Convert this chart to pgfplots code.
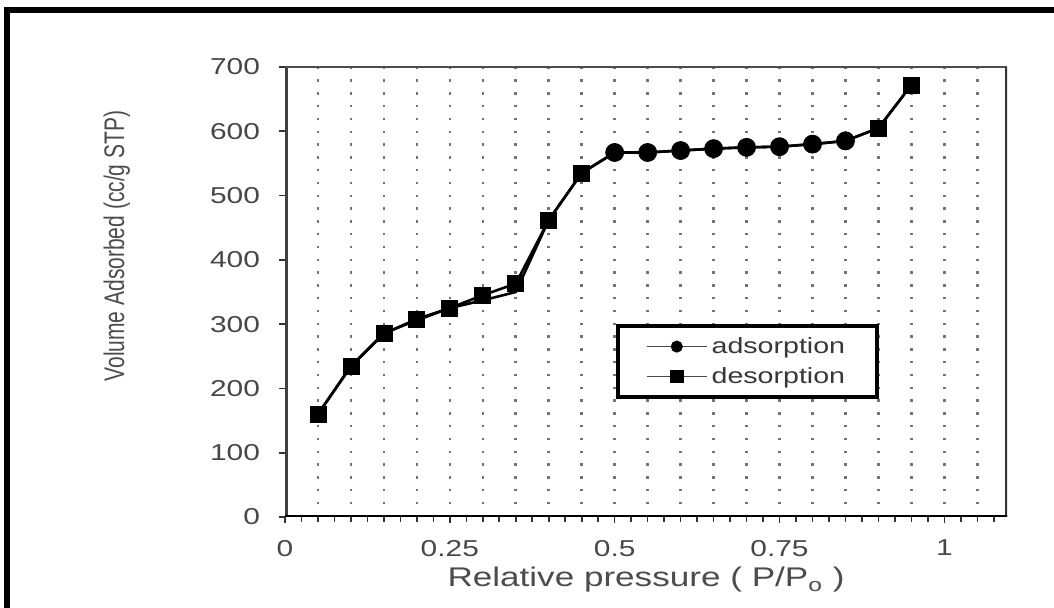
\documentclass[border=0pt]{standalone}
\usepackage{pgfplots}
\pgfplotsset{compat=1.18}
\usepackage{pgfplotstable}
\usepackage{graphicx}
\usepackage{fontspec}
\setmainfont{Liberation Sans}[FakeStretch=1.3]
\newfontfamily\plainfont{Liberation Sans}

% relative pressure, adsorption and desorption branches
\pgfplotstableread{
x    ads  des
0.05 160  160
0.10 235  234
0.15 286  285
0.20 306  308
0.25 325  325
0.30 337  345
0.35 350  363
0.40 462  462
0.45 535  535
0.50 567  567
0.55 567  567
0.60 570  570
0.65 573  573
0.70 575  575
0.75 576  576
0.80 580  580
0.85 585  585
0.90 605  605
0.95 672  672
}\isodata

\begin{document}
\begin{tikzpicture}
\useasboundingbox (0pt,0pt) rectangle (527pt,304pt);
% outer frame of the figure (cut on the right and at the bottom)
\draw[line width=3pt] (3.5pt,-5pt) -- (3.5pt,299pt) -- (535pt,299pt);
\begin{axis}[
    at={(142.5pt,45.5pt)}, anchor=south west,
    width=361pt, height=225pt, scale only axis,
    xmin=0, xmax=1.095, ymin=0, ymax=700,
    axis line style={draw=none},
    xtick={0,0.25,0.5,0.75,1},
    xticklabels={0,0.25,0.5,0.75,1},
    minor xtick={0,0.025,...,1.09},
    ytick={0,100,...,700},
    tick pos=left, tick align=outside,
    major tick length=3pt, minor tick length=2.5pt,
    tick style={black!80, line width=0.8pt},
    extra x ticks={0.05,0.1,...,1.06},
    extra x tick labels={},
    extra x tick style={grid=major, major tick length=0pt},
    major grid style={black!55, line width=1.3pt, dash pattern=on 1.2pt off 5.2pt},
    /pgf/number format/assume math mode=true,
    tick label style={font=\fontsize{11.5}{13}\selectfont, text=black!72},
    xticklabel style={yshift=-5pt},
    yticklabel style={xshift=-6pt},
    xlabel={Relative pressure ( P/P\textsubscript{o} )},
    xlabel style={font=\fontsize{13.5}{15}\selectfont, text=black!70,
        at={(axis description cs:0.5,0)}, anchor=center, yshift=-31.5pt},
    ylabel={\scalebox{1}[1.35]{Volume Adsorbed (cc/g STP)}},
    ylabel style={font=\plainfont\fontsize{10.5}{12}\selectfont, text=black!70,
        at={(axis description cs:-0.233,0.602)}, anchor=center},
    legend image code/.code={\draw[mark repeat=2,mark phase=2]
        plot coordinates {(0pt,0pt)(15pt,0pt)(30pt,0pt)};},
    legend style={at={(axis cs:0.502,300)}, anchor=north west,
        draw=black, line width=2pt, fill=white,
        font=\fontsize{11}{13}\selectfont, text=black!78,
        inner xsep=14pt, inner ysep=3.5pt, row sep=1.5pt},
    legend cell align=left,
]
\addlegendimage{black!70, line width=0.8pt, mark=*, mark size=2.6pt, mark options={fill=black, draw=black}}
\addlegendentry{adsorption}
\addlegendimage{black!70, line width=0.8pt, mark=square*, mark size=3pt, mark options={fill=black, draw=black}}
\addlegendentry{desorption}

% connecting lines
\addplot[black, line width=1.3pt, no marks, forget plot] table[x=x, y=ads] {\isodata};
\addplot[black, line width=1.3pt, no marks, forget plot] table[x=x, y=des] {\isodata};
% square markers (desorption), circles on the plateau (adsorption)
\addplot[only marks, mark=square*, mark size=4pt, black, forget plot,
    skip coords between index={9}{17}] table[x=x, y=des] {\isodata};
\addplot[only marks, mark=*, mark size=4.5pt, black, forget plot,
    skip coords between index={0}{9}, skip coords between index={17}{19}]
    table[x=x, y=ads] {\isodata};

% axis frame
\draw[black!75, line width=3pt] (rel axis cs:0,0) -- (rel axis cs:0,1);
\draw[black!70, line width=1.2pt] (rel axis cs:0,1) -- (rel axis cs:1,1);
\draw[black!80, line width=2.5pt] (rel axis cs:1,1) -- (rel axis cs:1,0);
\draw[black, line width=2pt] (rel axis cs:-0.004,0) -- (rel axis cs:1.004,0);
\end{axis}
\end{tikzpicture}
\end{document}
